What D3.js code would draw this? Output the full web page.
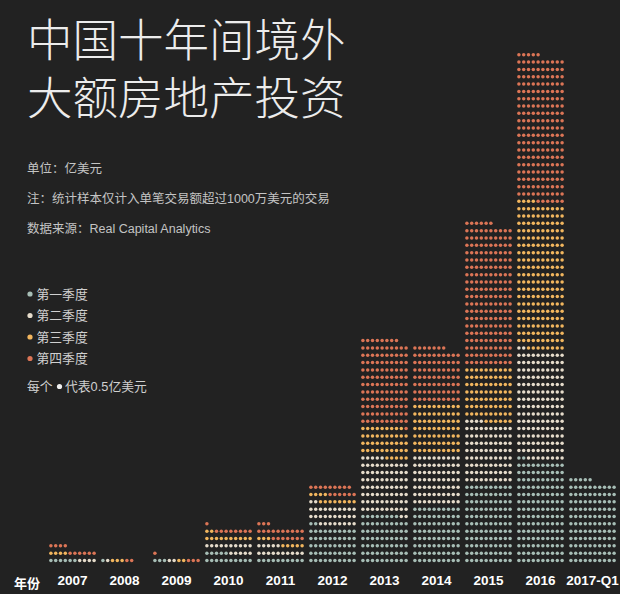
<!DOCTYPE html>
<html><head><meta charset="utf-8">
<script src="https://cdn.jsdelivr.net/npm/d3@7"></script>
<style>
html,body{margin:0;padding:0;background:#222222;}
svg{display:block;}
</style></head>
<body>
<svg id="c" width="620" height="594"></svg>
<script>
// Data (亿美元); each dot = 0.5亿美元
const years = ["2007","2008","2009","2010","2011","2012","2013","2014","2015","2016","2017-Q1"];
const q1 = [3, 0.5, 1.5, 7.5, 5, 26, 34, 40, 55, 71, 57.5];
const q2 = [2, 0.5, 1, 7.5, 7.5, 15, 38.5, 35, 42, 75, 0];
const q3 = [2, 1.5, 1, 6, 4, 6, 22, 35, 38, 101, 0];
const q4 = [5, 1, 2, 4.5, 10, 7.5, 59.5, 38.5, 98, 100.5, 0];
const quarterNames = ["第一季度","第二季度","第三季度","第四季度"];
const quarterColors = ["#a7beb6","#e6dccb","#f2b65e","#dc7556"];
const unitValue = 0.5;
const perRow = 10;

const svg = d3.select("#c");
const W = 620, H = 594;
svg.append("rect").attr("width", W).attr("height", H).attr("fill", "#222222");

const x = d3.scaleBand().domain(years).range([46.5, 618.5]).paddingInner(0).paddingOuter(0);
const colX = d3.scaleLinear().domain([0, perRow - 1]).range([-21.6, 21.6]);
const rowY = d3.scaleLinear().domain([0, 70]).range([560.5, 560.5 - 7.33 * 70]);
const color = d3.scaleOrdinal().domain([0,1,2,3]).range(quarterColors);

// Build dots
const dots = [];
years.forEach((yr, i) => {
  const qs = [q1[i], q2[i], q3[i], q4[i]];
  let idx = 0;
  qs.forEach((v, q) => {
    const n = Math.round(v / unitValue);
    for (let k = 0; k < n; k++) {
      dots.push({ year: yr, q: q, row: Math.floor(idx / perRow), col: idx % perRow });
      idx++;
    }
  });
});

svg.append("g").selectAll("circle").data(dots).join("circle")
  .attr("cx", d => x(d.year) + x.bandwidth() / 2 + colX(d.col))
  .attr("cy", d => rowY(d.row))
  .attr("r", 1.75)
  .attr("fill", d => color(d.q));

// X axis labels
const axis = d3.axisBottom(x).tickSize(0).tickPadding(0);
const ax = svg.append("g").attr("transform", "translate(0,575)").call(axis);
ax.select(".domain").remove();
ax.selectAll("text")
  .attr("fill", "#ffffff")
  .style("font-family", "Arial, 'Liberation Sans', sans-serif")
  .style("font-size", "13.5px")
  .style("font-weight", "bold");

svg.append("text").attr("x", 27).attr("y", 587.5).attr("text-anchor", "middle")
  .attr("fill", "#ffffff")
  .style("font-family", "'Noto Sans CJK SC', sans-serif")
  .style("font-size", "13px").style("font-weight", "bold").text("年份");

// Title (one text element, two lines)
const title = svg.append("text")
  .attr("fill", "#ececec")
  .style("font-family", "'Noto Sans CJK SC', sans-serif")
  .style("font-size", "45.5px").style("font-weight", "300");
["中国十年间境外", "大额房地产投资"].forEach((t, i) => {
  title.append("tspan").attr("x", 27).attr("y", 57 + i * 58).text(t);
});

// Notes
const noteFont = "'Liberation Sans', Arial, 'Noto Sans CJK SC', sans-serif";
const notes = ["单位：亿美元", "注：统计样本仅计入单笔交易额超过1000万美元的交易", "数据来源：Real Capital Analytics"];
notes.forEach((t, i) => {
  svg.append("text").attr("x", 27).attr("y", 173 + i * 30)
    .attr("fill", "#c4c4c4")
    .style("font-family", noteFont)
    .style("font-size", "12.5px")
    .text(t);
});

// Legend
const legendY = [294, 315.5, 337, 358.5];
quarterNames.forEach((t, i) => {
  const g = svg.append("g").attr("transform", `translate(0,${legendY[i]})`);
  g.append("circle").attr("cx", 30).attr("cy", 0).attr("r", 2.6).attr("fill", quarterColors[i]);
  g.append("text").attr("x", 36.5).attr("y", 4.5)
    .attr("fill", "#d0d0d0")
    .style("font-family", noteFont)
    .style("font-size", "12.8px").text(t);
});
const lg = svg.append("g").attr("transform", "translate(0,386)");
lg.append("text").attr("x", 27).attr("y", 4.5).attr("fill", "#d0d0d0")
  .style("font-family", noteFont).style("font-size", "12.8px").text("每个");
lg.append("circle").attr("cx", 59.5).attr("cy", 0.5).attr("r", 2.6).attr("fill", "#f0f0f0");
lg.append("text").attr("x", 65).attr("y", 4.5).attr("fill", "#d0d0d0")
  .style("font-family", noteFont).style("font-size", "12.8px").text("代表0.5亿美元");
</script>
</body></html>
